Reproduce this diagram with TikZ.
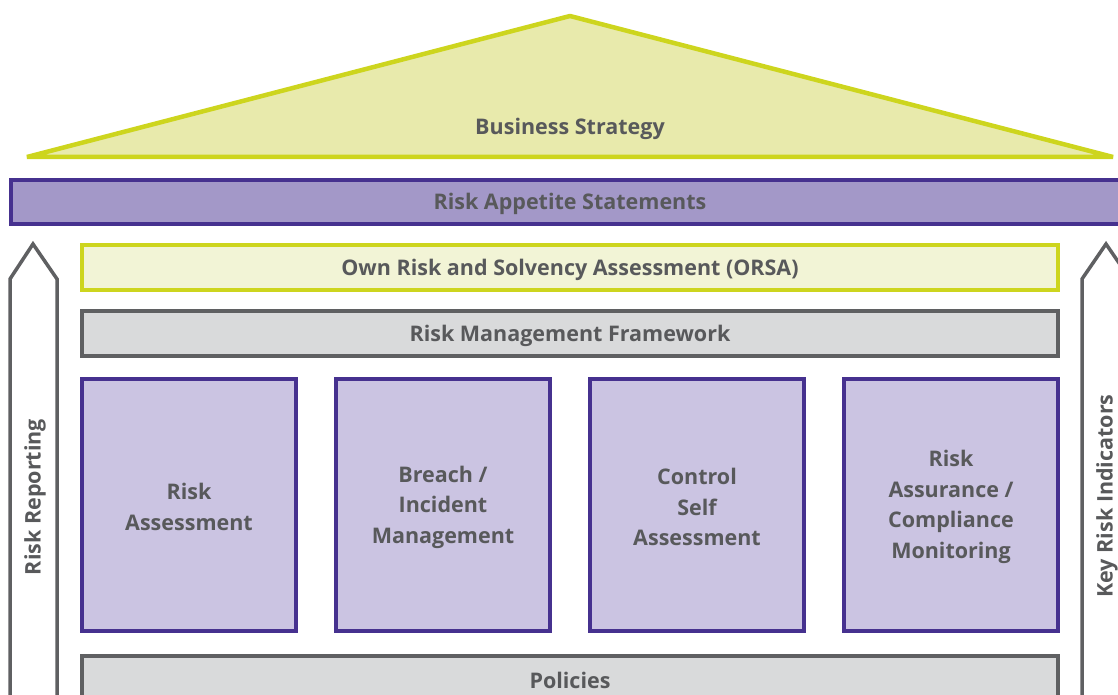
\documentclass[tikz,border=0pt]{standalone}
\usepackage{fontspec}
\setmainfont{Open Sans}
\definecolor{txt}{HTML}{58595B}
\definecolor{lime}{HTML}{CDD51E}
\definecolor{limefill}{HTML}{E8EAAC}
\definecolor{limelight}{HTML}{F2F4D6}
\definecolor{purp}{HTML}{46318F}
\definecolor{purpmid}{HTML}{A398C8}
\definecolor{purplight}{HTML}{CBC4E2}
\definecolor{gry}{HTML}{5F6062}
\definecolor{gryfill}{HTML}{D9DADB}
\tikzset{
  lbl/.style={text=txt, font=\fontsize{21.5}{30.5}\selectfont\bfseries, align=center},
  pillar/.style={draw=purp, fill=purplight, line width=4pt},
  graybar/.style={draw=gry, fill=gryfill, line width=4pt},
  arrowshape/.style={draw=gry, line width=3.5pt, fill=white},
}
\begin{document}
\begin{tikzpicture}[x=1pt,y=-1pt]
\useasboundingbox (0,0) rectangle (1118,695);
\clip (0,0) rectangle (1118,695);
% roof
\draw[draw=lime, fill=limefill, line width=4.5pt, line join=bevel] (27,157) -- (570,16) -- (1113,157) -- cycle;
\node[lbl] (bs) at (570,129) {Business Strategy};
% risk appetite
\draw[draw=purp, fill=purpmid, line width=4.5pt] (11,180) rectangle (1130,224);
\node[lbl] (ras) at (570,204) {Risk Appetite Statements};
% side arrows
\draw[arrowshape] (10,720) -- (10,279) -- (33,244) -- (57,279) -- (57,720);
\node[lbl, rotate=90] (rr) at (35,497) {Risk Reporting};
\draw[arrowshape] (1082,720) -- (1082,279) -- (1106,244) -- (1130,279) -- (1130,720);
\node[lbl, rotate=90] (kri) at (1107,496) {Key Risk Indicators};
% ORSA
\draw[draw=lime, fill=limelight, line width=4pt] (82,245) rectangle (1058,290);
\node[lbl] (orsa) at (570,270) {Own Risk and Solvency Assessment (ORSA)};
% RMF
\draw[graybar] (82,311) rectangle (1058,356);
\node[lbl] (rmf) at (570,336) {Risk Management Framework};
% pillars
\draw[pillar] (82,379) rectangle (296,631);
\node[lbl] (p1) at (189,507) {Risk\\Assessment};
\draw[pillar] (336,379) rectangle (550,631);
\node[lbl] (p2) at (443,507) {Breach /\\Incident\\Management};
\draw[pillar] (590,379) rectangle (804,631);
\node[lbl] (p3) at (697,507) {Control\\Self\\Assessment};
\draw[pillar] (844,379) rectangle (1058,631);
\node[lbl] (p4) at (951,507) {Risk\\Assurance /\\Compliance\\Monitoring};
% policies
\draw[graybar] (82,656) rectangle (1058,720);
\node[lbl] (pol) at (570,680) {Policies};
\end{tikzpicture}
\end{document}
